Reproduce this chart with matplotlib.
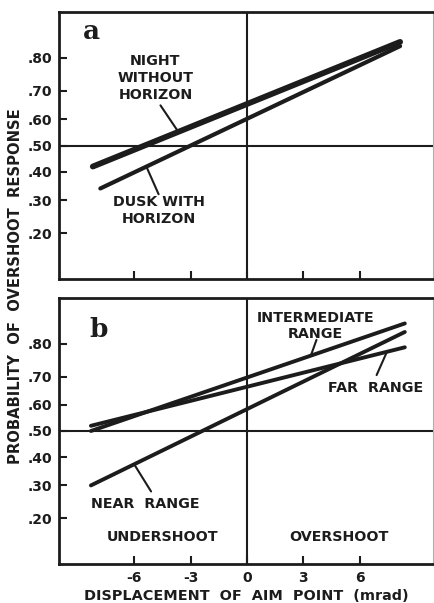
import numpy as np
import matplotlib
matplotlib.use('Agg')
import matplotlib.pyplot as plt
from statistics import NormalDist

# displacement of aim point (mrad) at the ends of each fitted line
x_ends = [-8.2, 8.15]
night_p = [0.42, 0.84]
dusk_x = [-7.8, 8.15]
dusk_p = [0.34, 0.83]

range_x = [-8.3, 8.4]
intermediate_p = [0.50, 0.85]
far_p = [0.52, 0.79]
near_p = [0.30, 0.83]

prob_ticks = [0.20, 0.30, 0.40, 0.50, 0.60, 0.70, 0.80]
prob_labels = ['.20', '.30', '.40', '.50', '.60', '.70', '.80']
x_ticks = [-6, -3, 0, 3, 6]

INK = '#1c1c1c'
FONT = 'DejaVu Sans'

nd = NormalDist()
_ppf = np.vectorize(nd.inv_cdf, otypes=[float])
_cdf = np.vectorize(nd.cdf, otypes=[float])


def probit(p):
    p = np.clip(np.asarray(p, dtype=float), 1e-6, 1 - 1e-6)
    return _ppf(p)


def inv_probit(z):
    return _cdf(np.asarray(z, dtype=float))


def point_on(xs, ps, x):
    # straight line in probit space
    z = np.interp(x, xs, probit(ps))
    return x, float(inv_probit(z))


def setup(ax, show_xlabels):
    ax.set_yscale('function', functions=(probit, inv_probit))
    ax.set_xlim(-10, 9.9)
    ax.set_ylim(0.1, 0.9)
    ax.set_yticks(prob_ticks)
    ax.set_yticklabels(prob_labels)
    ax.yaxis.set_minor_locator(matplotlib.ticker.NullLocator())
    ax.set_xticks(x_ticks)
    if show_xlabels:
        ax.set_xticklabels(['-6', '-3', '0', '3', '6'])
    else:
        ax.set_xticklabels([])
    ax.tick_params(direction='in', length=6, width=1.5, color=INK,
                   labelsize=10, pad=5, labelcolor=INK)
    for lab in ax.get_xticklabels() + ax.get_yticklabels():
        lab.set_fontweight('bold')
    for side in ['left', 'top', 'bottom']:
        ax.spines[side].set_linewidth(2)
        ax.spines[side].set_color(INK)
    ax.spines['right'].set_linewidth(0.8)
    ax.spines['right'].set_color('#b0b0b0')
    ax.axhline(0.5, color=INK, lw=1.5)
    ax.axvline(0, color=INK, lw=1.5)


def leader(ax, xy, end):
    ax.annotate('', xy=xy, xytext=end,
                arrowprops=dict(arrowstyle='-', color=INK, lw=1.5,
                                shrinkA=0, shrinkB=0))


fig = plt.figure(figsize=(4.35, 6.03), dpi=100)
ax1 = fig.add_axes([0.1356, 0.5373, 0.8598, 0.4428])
ax2 = fig.add_axes([0.1356, 0.0647, 0.8598, 0.4411])

txt = dict(fontsize=10.3, fontweight='bold', color=INK, family=FONT,
           ha='center', va='center', linespacing=1.25)

# panel a
setup(ax1, False)
ax1.plot(x_ends, night_p, color=INK, lw=4.2, solid_capstyle='round')
ax1.plot(dusk_x, dusk_p, color=INK, lw=3, solid_capstyle='round')
ax1.text(-8.25, 0.864, 'a', fontsize=19, fontweight='bold',
         family='DejaVu Serif', color=INK, ha='center', va='center')
ax1.text(-4.87, 0.742, 'NIGHT\nWITHOUT\nHORIZON', **txt)
ax1.text(-4.7, 0.266, 'DUSK WITH\nHORIZON', **txt)
leader(ax1, point_on(x_ends, night_p, -3.65), (-4.6, 0.65))
leader(ax1, point_on(dusk_x, dusk_p, -5.35), (-4.7, 0.32))

# panel b
setup(ax2, True)
for ps in (intermediate_p, far_p, near_p):
    ax2.plot(range_x, ps, color=INK, lw=2.8, solid_capstyle='round')
ax2.text(-7.88, 0.837, 'b', fontsize=19, fontweight='bold',
         family='DejaVu Serif', color=INK, ha='center', va='center')
ax2.text(3.65, 0.844, 'INTERMEDIATE\nRANGE', **txt)
ax2.text(6.83, 0.661, 'FAR  RANGE', **txt)
ax2.text(-5.4, 0.242, 'NEAR  RANGE', **txt)
ax2.text(-4.5, 0.153, 'UNDERSHOOT', **txt)
ax2.text(4.9, 0.153, 'OVERSHOOT', **txt)
leader(ax2, point_on(range_x, intermediate_p, 3.4), (3.7, 0.81))
leader(ax2, point_on(range_x, far_p, 7.45), (6.9, 0.705))
leader(ax2, point_on(range_x, near_p, -6.0), (-5.1, 0.28))

ax2.set_xlabel('DISPLACEMENT  OF  AIM  POINT  (mrad)', fontsize=10.4,
               fontweight='bold', color=INK, family=FONT, labelpad=3)
fig.text(0.035, 1 - 286 / 603, 'PROBABILITY  OF  OVERSHOOT  RESPONSE',
         rotation=90, fontsize=10.6, fontweight='bold', color=INK,
         family=FONT, ha='center', va='center')

fig.savefig('out.png', dpi=100)
